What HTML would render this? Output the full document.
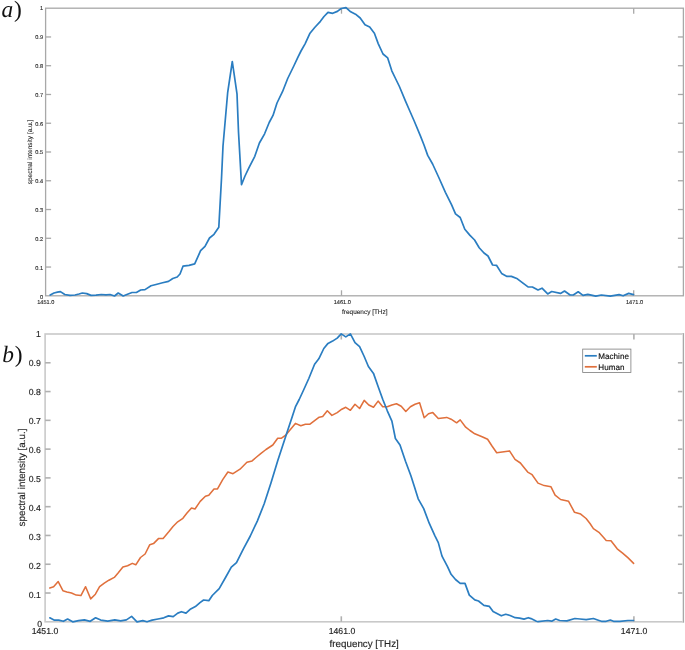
<!DOCTYPE html><html><head><meta charset="utf-8"><style>html,body{margin:0;padding:0;background:#fff;}svg{display:block;will-change:transform}text{text-rendering:geometricPrecision;font-family:"Liberation Sans",sans-serif}</style></head><body>
<svg width="685" height="650" viewBox="0 0 685 650">
<rect width="685" height="650" fill="#fff"/>
<rect x="45.6" y="8.2" width="637.8" height="287.6" fill="none" stroke="#a8a8a8" stroke-width="1.3"/>
<line x1="45.6" y1="267.04" x2="51.1" y2="267.04" stroke="#a8a8a8" stroke-width="1.3"/>
<line x1="677.9" y1="267.04" x2="683.4" y2="267.04" stroke="#a8a8a8" stroke-width="1.3"/>
<line x1="45.6" y1="238.28" x2="51.1" y2="238.28" stroke="#a8a8a8" stroke-width="1.3"/>
<line x1="677.9" y1="238.28" x2="683.4" y2="238.28" stroke="#a8a8a8" stroke-width="1.3"/>
<line x1="45.6" y1="209.52" x2="51.1" y2="209.52" stroke="#a8a8a8" stroke-width="1.3"/>
<line x1="677.9" y1="209.52" x2="683.4" y2="209.52" stroke="#a8a8a8" stroke-width="1.3"/>
<line x1="45.6" y1="180.76" x2="51.1" y2="180.76" stroke="#a8a8a8" stroke-width="1.3"/>
<line x1="677.9" y1="180.76" x2="683.4" y2="180.76" stroke="#a8a8a8" stroke-width="1.3"/>
<line x1="45.6" y1="152.00" x2="51.1" y2="152.00" stroke="#a8a8a8" stroke-width="1.3"/>
<line x1="677.9" y1="152.00" x2="683.4" y2="152.00" stroke="#a8a8a8" stroke-width="1.3"/>
<line x1="45.6" y1="123.24" x2="51.1" y2="123.24" stroke="#a8a8a8" stroke-width="1.3"/>
<line x1="677.9" y1="123.24" x2="683.4" y2="123.24" stroke="#a8a8a8" stroke-width="1.3"/>
<line x1="45.6" y1="94.48" x2="51.1" y2="94.48" stroke="#a8a8a8" stroke-width="1.3"/>
<line x1="677.9" y1="94.48" x2="683.4" y2="94.48" stroke="#a8a8a8" stroke-width="1.3"/>
<line x1="45.6" y1="65.72" x2="51.1" y2="65.72" stroke="#a8a8a8" stroke-width="1.3"/>
<line x1="677.9" y1="65.72" x2="683.4" y2="65.72" stroke="#a8a8a8" stroke-width="1.3"/>
<line x1="45.6" y1="36.96" x2="51.1" y2="36.96" stroke="#a8a8a8" stroke-width="1.3"/>
<line x1="677.9" y1="36.96" x2="683.4" y2="36.96" stroke="#a8a8a8" stroke-width="1.3"/>
<line x1="341.5" y1="295.8" x2="341.5" y2="290.3" stroke="#a8a8a8" stroke-width="1.3"/>
<line x1="341.5" y1="8.2" x2="341.5" y2="13.7" stroke="#a8a8a8" stroke-width="1.3"/>
<line x1="633.7" y1="295.8" x2="633.7" y2="290.3" stroke="#a8a8a8" stroke-width="1.3"/>
<line x1="633.7" y1="8.2" x2="633.7" y2="13.7" stroke="#a8a8a8" stroke-width="1.3"/>
<text x="43.0" y="298.90" font-size="5.6" fill="#2a2a2a" stroke="#2a2a2a" stroke-width="0.12" text-anchor="end">0</text>
<text x="43.0" y="270.00" font-size="5.6" fill="#2a2a2a" stroke="#2a2a2a" stroke-width="0.12" text-anchor="end">0.1</text>
<text x="43.0" y="241.10" font-size="5.6" fill="#2a2a2a" stroke="#2a2a2a" stroke-width="0.12" text-anchor="end">0.2</text>
<text x="43.0" y="212.20" font-size="5.6" fill="#2a2a2a" stroke="#2a2a2a" stroke-width="0.12" text-anchor="end">0.3</text>
<text x="43.0" y="183.30" font-size="5.6" fill="#2a2a2a" stroke="#2a2a2a" stroke-width="0.12" text-anchor="end">0.4</text>
<text x="43.0" y="154.40" font-size="5.6" fill="#2a2a2a" stroke="#2a2a2a" stroke-width="0.12" text-anchor="end">0.5</text>
<text x="43.0" y="125.50" font-size="5.6" fill="#2a2a2a" stroke="#2a2a2a" stroke-width="0.12" text-anchor="end">0.6</text>
<text x="43.0" y="96.60" font-size="5.6" fill="#2a2a2a" stroke="#2a2a2a" stroke-width="0.12" text-anchor="end">0.7</text>
<text x="43.0" y="67.70" font-size="5.6" fill="#2a2a2a" stroke="#2a2a2a" stroke-width="0.12" text-anchor="end">0.8</text>
<text x="43.0" y="38.80" font-size="5.6" fill="#2a2a2a" stroke="#2a2a2a" stroke-width="0.12" text-anchor="end">0.9</text>
<text x="43.0" y="9.90" font-size="5.6" fill="#2a2a2a" stroke="#2a2a2a" stroke-width="0.12" text-anchor="end">1</text>
<text x="45.8" y="304.2" font-size="5.6" fill="#2a2a2a" stroke="#2a2a2a" stroke-width="0.12" text-anchor="middle">1451.0</text>
<text x="342.3" y="304.2" font-size="5.6" fill="#2a2a2a" stroke="#2a2a2a" stroke-width="0.12" text-anchor="middle">1461.0</text>
<text x="634.5" y="304.2" font-size="5.6" fill="#2a2a2a" stroke="#2a2a2a" stroke-width="0.12" text-anchor="middle">1471.0</text>
<text x="364.8" y="313.9" font-size="6.45" fill="#2a2a2a" stroke="#2a2a2a" stroke-width="0.12" text-anchor="middle">frequency [THz]</text>
<text transform="translate(31.8,152) rotate(-90)" x="0" y="0" font-size="6.5" fill="#2a2a2a" stroke="#2a2a2a" stroke-width="0.12" text-anchor="middle">spectral intensity [a.u.]</text>
<polyline points="50.2,295.1 54.0,293.0 57.5,292.2 60.4,291.6 64.8,294.5 70.0,295.3 75.0,295.0 79.0,294.0 82.3,293.0 86.7,293.6 91.0,295.4 96.0,295.2 101.3,294.5 106.0,294.8 110.0,294.5 114.5,296.0 118.2,293.0 123.2,296.0 127.5,294.3 132.0,292.5 136.4,292.5 140.7,290.0 145.0,289.6 151.0,285.8 156.0,284.5 162.6,282.8 168.5,281.4 172.8,278.5 177.2,277.0 180.0,274.0 183.0,266.2 189.0,265.3 194.7,263.9 200.6,250.7 205.0,246.4 209.5,238.0 214.0,234.3 218.8,227.2 221.5,178.5 223.0,146.0 227.7,92.3 232.3,61.5 237.0,93.8 238.5,132.0 241.5,184.6 245.0,176.0 249.0,167.7 254.8,156.3 259.4,143.0 264.6,133.8 269.2,122.5 273.0,115.4 277.0,103.0 282.5,91.7 287.7,78.5 293.8,66.0 297.6,57.9 301.0,51.0 305.2,43.6 310.0,33.2 314.7,27.5 320.4,21.3 324.0,16.5 328.0,12.3 332.7,13.3 337.4,11.4 341.2,8.5 346.0,7.6 350.7,11.8 355.5,14.2 360.2,18.0 365.0,24.7 369.7,27.0 374.4,33.2 378.2,43.6 383.0,54.0 387.7,57.9 391.8,70.8 395.5,78.5 399.4,86.5 405.5,101.2 409.8,111.0 414.2,121.0 420.3,135.7 424.0,145.0 427.7,155.4 432.6,164.0 438.8,177.5 445.4,192.3 451.5,204.6 455.5,213.8 460.2,217.5 464.8,229.2 470.0,235.4 474.6,240.0 479.2,247.7 484.0,253.0 488.0,256.0 492.6,265.0 496.5,265.3 501.6,273.4 507.0,276.4 511.4,276.4 517.4,278.8 522.0,282.4 528.0,286.9 532.4,287.0 538.0,290.0 542.0,288.2 547.7,293.9 551.7,291.5 560.5,293.4 564.5,291.0 570.1,295.0 573.3,295.0 578.2,291.8 583.0,295.4 587.8,294.3 595.8,296.2 601.4,295.0 610.3,296.2 619.1,294.6 623.1,295.8 628.7,293.4 633.5,294.6" fill="none" stroke="#2a7dc1" stroke-width="1.7" stroke-linejoin="round" stroke-linecap="round"/>
<rect x="45.1" y="334.0" width="638.3" height="287.79999999999995" fill="none" stroke="#c9c9c9" stroke-width="1.6"/>
<line x1="45.1" y1="593.02" x2="50.6" y2="593.02" stroke="#b0b0b0" stroke-width="1.6"/>
<line x1="677.9" y1="593.02" x2="683.4" y2="593.02" stroke="#b0b0b0" stroke-width="1.6"/>
<line x1="45.1" y1="564.24" x2="50.6" y2="564.24" stroke="#b0b0b0" stroke-width="1.6"/>
<line x1="677.9" y1="564.24" x2="683.4" y2="564.24" stroke="#b0b0b0" stroke-width="1.6"/>
<line x1="45.1" y1="535.46" x2="50.6" y2="535.46" stroke="#b0b0b0" stroke-width="1.6"/>
<line x1="677.9" y1="535.46" x2="683.4" y2="535.46" stroke="#b0b0b0" stroke-width="1.6"/>
<line x1="45.1" y1="506.68" x2="50.6" y2="506.68" stroke="#b0b0b0" stroke-width="1.6"/>
<line x1="677.9" y1="506.68" x2="683.4" y2="506.68" stroke="#b0b0b0" stroke-width="1.6"/>
<line x1="45.1" y1="477.90" x2="50.6" y2="477.90" stroke="#b0b0b0" stroke-width="1.6"/>
<line x1="677.9" y1="477.90" x2="683.4" y2="477.90" stroke="#b0b0b0" stroke-width="1.6"/>
<line x1="45.1" y1="449.12" x2="50.6" y2="449.12" stroke="#b0b0b0" stroke-width="1.6"/>
<line x1="677.9" y1="449.12" x2="683.4" y2="449.12" stroke="#b0b0b0" stroke-width="1.6"/>
<line x1="45.1" y1="420.34" x2="50.6" y2="420.34" stroke="#b0b0b0" stroke-width="1.6"/>
<line x1="677.9" y1="420.34" x2="683.4" y2="420.34" stroke="#b0b0b0" stroke-width="1.6"/>
<line x1="45.1" y1="391.56" x2="50.6" y2="391.56" stroke="#b0b0b0" stroke-width="1.6"/>
<line x1="677.9" y1="391.56" x2="683.4" y2="391.56" stroke="#b0b0b0" stroke-width="1.6"/>
<line x1="45.1" y1="362.78" x2="50.6" y2="362.78" stroke="#b0b0b0" stroke-width="1.6"/>
<line x1="677.9" y1="362.78" x2="683.4" y2="362.78" stroke="#b0b0b0" stroke-width="1.6"/>
<line x1="341.3" y1="621.8" x2="341.3" y2="616.3" stroke="#b0b0b0" stroke-width="1.6"/>
<line x1="341.3" y1="334.0" x2="341.3" y2="339.5" stroke="#b0b0b0" stroke-width="1.6"/>
<line x1="633.9" y1="621.8" x2="633.9" y2="616.3" stroke="#b0b0b0" stroke-width="1.6"/>
<line x1="633.9" y1="334.0" x2="633.9" y2="339.5" stroke="#b0b0b0" stroke-width="1.6"/>
<text x="42.2" y="626.50" font-size="8.7" fill="#262626" stroke="#262626" stroke-width="0.15" text-anchor="end">0</text>
<text x="40.8" y="597.57" font-size="8.7" fill="#262626" stroke="#262626" stroke-width="0.15" text-anchor="end">0.1</text>
<text x="40.8" y="568.64" font-size="8.7" fill="#262626" stroke="#262626" stroke-width="0.15" text-anchor="end">0.2</text>
<text x="40.8" y="539.71" font-size="8.7" fill="#262626" stroke="#262626" stroke-width="0.15" text-anchor="end">0.3</text>
<text x="40.8" y="510.78" font-size="8.7" fill="#262626" stroke="#262626" stroke-width="0.15" text-anchor="end">0.4</text>
<text x="40.8" y="481.85" font-size="8.7" fill="#262626" stroke="#262626" stroke-width="0.15" text-anchor="end">0.5</text>
<text x="40.8" y="452.92" font-size="8.7" fill="#262626" stroke="#262626" stroke-width="0.15" text-anchor="end">0.6</text>
<text x="40.8" y="423.99" font-size="8.7" fill="#262626" stroke="#262626" stroke-width="0.15" text-anchor="end">0.7</text>
<text x="40.8" y="395.06" font-size="8.7" fill="#262626" stroke="#262626" stroke-width="0.15" text-anchor="end">0.8</text>
<text x="40.8" y="366.13" font-size="8.7" fill="#262626" stroke="#262626" stroke-width="0.15" text-anchor="end">0.9</text>
<text x="40.8" y="337.20" font-size="8.7" fill="#262626" stroke="#262626" stroke-width="0.15" text-anchor="end">1</text>
<text x="45.0" y="634.4" font-size="8.7" fill="#262626" stroke="#262626" stroke-width="0.15" text-anchor="middle">1451.0</text>
<text x="342.0" y="634.4" font-size="8.7" fill="#262626" stroke="#262626" stroke-width="0.15" text-anchor="middle">1461.0</text>
<text x="634.1" y="634.4" font-size="8.7" fill="#262626" stroke="#262626" stroke-width="0.15" text-anchor="middle">1471.0</text>
<text x="364.2" y="647.3" font-size="9.8" fill="#262626" stroke="#262626" stroke-width="0.15" text-anchor="middle">frequency [THz]</text>
<text transform="translate(25.2,477.5) rotate(-90)" x="0" y="0" font-size="9.85" fill="#262626" stroke="#262626" stroke-width="0.15" text-anchor="middle">spectral intensity [a.u.]</text>
<polyline points="49.8,587.9 53.6,586.7 58.2,581.6 62.9,590.7 66.9,591.9 71.5,593.0 76.2,595.1 80.9,595.6 85.6,586.7 90.7,598.9 95.4,594.2 99.6,586.7 104.3,583.2 108.9,580.2 114.3,577.4 118.3,572.7 122.9,566.9 127.6,565.7 132.3,563.4 135.8,564.8 140.5,557.5 145.1,554.0 149.8,544.7 153.5,543.6 158.7,538.4 163.1,538.4 169.0,531.5 173.0,526.5 177.7,521.8 182.9,518.3 187.0,513.0 191.5,508.0 195.0,509.0 200.2,501.4 205.4,496.2 208.8,495.2 214.0,488.9 217.5,488.9 222.7,479.6 227.9,472.0 233.0,473.7 240.0,469.2 246.9,462.3 252.1,460.9 256.0,457.5 260.7,453.6 266.0,449.5 272.8,445.0 277.7,438.2 281.5,438.2 285.4,435.4 295.4,423.4 300.8,425.8 305.4,424.2 310.0,424.2 314.6,420.7 319.2,417.2 322.7,416.5 327.3,410.8 331.9,415.4 337.2,412.6 341.8,409.2 345.8,407.3 350.4,410.3 355.0,404.3 359.6,408.5 364.2,400.4 368.8,405.0 373.5,407.3 378.1,401.1 382.7,406.8 387.3,406.8 391.9,405.0 396.5,403.8 401.2,406.2 405.8,411.5 410.4,406.8 415.0,404.3 419.6,402.7 424.2,417.7 428.5,413.7 432.8,412.6 438.3,418.5 446.7,417.4 451.1,419.2 456.6,422.8 460.2,419.9 465.7,427.2 470.0,430.5 474.8,433.8 482.1,436.7 487.6,439.3 492.0,446.0 496.7,452.8 502.2,452.0 509.5,450.9 515.0,459.3 520.4,463.0 524.0,467.5 527.7,472.1 532.1,474.7 538.0,483.1 544.2,485.6 551.0,486.8 555.1,495.1 560.6,499.5 568.6,501.3 574.5,512.3 580.7,514.1 586.1,518.5 590.0,523.5 593.4,528.7 598.9,532.3 602.5,536.3 606.2,540.4 611.0,540.7 617.2,548.8 622.6,553.1 628.1,557.9 633.6,563.4" fill="none" stroke="#e0703c" stroke-width="1.55" stroke-linejoin="round" stroke-linecap="round"/>
<polyline points="49.8,617.8 54.0,620.1 58.7,620.1 63.4,621.3 67.6,619.0 72.7,621.8 78.5,620.6 84.4,619.9 90.2,621.3 95.6,617.8 100.7,620.1 107.8,621.1 114.8,619.9 120.6,620.8 126.4,619.9 131.6,616.4 137.0,621.8 142.8,620.6 147.0,621.8 152.1,620.1 158.0,619.0 163.8,617.8 168.5,615.9 173.2,616.6 177.8,613.1 181.4,611.7 186.0,613.1 190.7,608.9 195.4,606.6 200.0,602.6 203.6,600.0 208.8,600.7 212.3,595.5 219.2,588.6 226.1,576.5 231.3,567.1 236.5,562.6 243.4,548.8 250.3,536.0 257.3,521.1 264.2,503.8 271.1,482.4 277.8,460.5 286.9,432.7 292.3,416.5 295.4,406.9 299.2,399.5 303.6,390.0 308.8,378.5 314.6,364.2 318.8,358.8 323.8,348.5 328.0,343.4 332.6,341.1 337.2,338.1 341.2,333.9 345.8,336.9 350.4,333.9 355.0,342.7 359.6,346.6 364.2,356.5 368.4,366.5 373.5,373.4 378.1,386.5 382.7,399.2 387.3,410.8 391.9,421.2 395.4,438.5 400.0,445.0 405.5,461.2 410.9,475.8 414.5,487.0 418.2,498.8 423.7,508.6 429.2,523.2 434.7,535.3 438.3,542.6 442.0,556.1 447.4,566.3 451.1,574.3 455.5,579.5 460.2,583.4 465.0,583.4 469.3,595.1 474.8,599.9 478.5,601.0 483.9,605.3 489.4,606.4 493.1,611.5 501.3,615.8 505.7,614.3 510.1,615.5 515.2,617.7 519.6,618.1 524.0,619.1 528.3,617.7 531.0,618.6 536.4,621.3 538.0,621.7 547.7,620.5 551.7,621.2 555.7,619.0 559.7,620.5 566.9,620.9 574.9,618.5 580.0,619.0 586.2,619.6 593.4,618.5 599.0,620.5 601.4,621.3 606.2,621.3 610.3,620.0 613.5,621.3 619.9,621.3 627.9,620.5 633.5,620.5" fill="none" stroke="#2a7dc1" stroke-width="1.7" stroke-linejoin="round" stroke-linecap="round"/>
<line x1="683.4" y1="334.0" x2="683.4" y2="621.8" stroke="#fff" stroke-width="2"/>
<line x1="683.4" y1="333.2" x2="683.4" y2="622.5999999999999" stroke="#a8a8a8" stroke-width="1.2"/>
<rect x="582.7" y="349.1" width="48.2" height="23.4" fill="#fff" stroke="#7c7c7c" stroke-width="0.8"/>
<line x1="584.8" y1="355.8" x2="596.8" y2="355.8" stroke="#2a7dc1" stroke-width="1.7"/>
<line x1="584.8" y1="366.8" x2="596.8" y2="366.8" stroke="#e0703c" stroke-width="1.7"/>
<text x="598.3" y="359.1" font-size="8.1" fill="#111" stroke="#111" stroke-width="0.15">Machine</text>
<text x="598.3" y="369.8" font-size="8.1" fill="#111" stroke="#111" stroke-width="0.15">Human</text>
<text x="1.6" y="16.8" font-size="23.4" fill="#111" style="font-family:'Liberation Serif',serif;font-style:italic">a<tspan dx="0.8" style="font-style:normal">)</tspan></text>
<text x="2.2" y="361.8" font-size="23.4" fill="#111" style="font-family:'Liberation Serif',serif;font-style:italic">b<tspan dx="0.9" style="font-style:normal">)</tspan></text>
</svg></body></html>
